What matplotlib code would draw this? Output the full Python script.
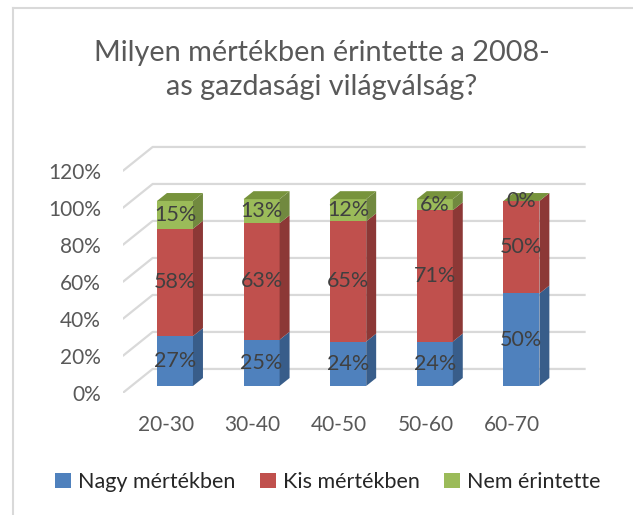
import matplotlib
matplotlib.use('Agg')
import matplotlib.pyplot as plt
from matplotlib.patches import Polygon, Patch
from matplotlib.lines import Line2D

plt.rcParams['font.family'] = ['Lato', 'DejaVu Sans']

categories = ['20-30', '30-40', '40-50', '50-60', '60-70']
series_names = ['Nagy mértékben', 'Kis mértékben', 'Nem érintette']
nagy = [27, 25, 24, 24, 50]
kis = [58, 63, 65, 71, 50]
nem = [15, 13, 12, 6, 0]
yticks = [0, 20, 40, 60, 80, 100, 120]

front = ['#4F81BD', '#C0504D', '#9BBB59']
side = ['#385D8A', '#8C3836', '#71893F']
top = ['#3F6A9E', '#A33F3C', '#77933C']

# fake 3d geometry (data units)
wall_dx, wall_dy = 0.346, 13.0   # back wall offset
bar_ox, bar_oy = 0.104, 3.8      # bar front face offset
bar_w = 0.416
dep_x, dep_y = 0.115, 4.3        # bar depth

fig = plt.figure(figsize=(6.33, 5.15), dpi=100)
ax = fig.add_axes([0.1938, 0.2369, 0.7388, 0.4885])
ax.set_xlim(-0.5, 4.9)
ax.set_ylim(0, 136)
for s in ax.spines.values():
    s.set_visible(False)

# gridlines: diagonal floor edge + back wall line
for t in yticks:
    ax.plot([-0.5, -0.5 + wall_dx, 4.5 + wall_dx], [t, t + wall_dy, t + wall_dy],
            color='#D9D9D9', lw=1.6, zorder=1, solid_capstyle='butt')

series = [nagy, kis, nem]
x = list(range(len(categories)))
bottoms = [0] * len(categories)
for k, vals in enumerate(series):
    xs = [i + bar_ox for i in x]
    bs = [b + bar_oy for b in bottoms]
    ax.bar(xs, vals, bottom=bs, width=bar_w, color=front[k], zorder=3)
    for i in x:
        x1 = xs[i] + bar_w / 2
        y0 = bs[i]
        y1 = bs[i] + vals[i]
        ax.add_patch(Polygon([(x1, y0), (x1 + dep_x, y0 + dep_y),
                              (x1 + dep_x, y1 + dep_y), (x1, y1)],
                             closed=True, color=side[k], lw=0, zorder=3))
        if k == len(series) - 1:
            xl = xs[i] - bar_w / 2
            ax.add_patch(Polygon([(xl, y1), (x1, y1), (x1 + dep_x, y1 + dep_y),
                                  (xl + dep_x, y1 + dep_y)],
                                 closed=True, color=top[k], lw=0, zorder=3))
        ax.text(xs[i], y0 + vals[i] / 2, f'{vals[i]}%', ha='center', va='center',
                fontsize=15.5, color='#404040', zorder=5)
    bottoms = [b + v for b, v in zip(bottoms, vals)]

ax.set_yticks(yticks)
ax.set_yticklabels([f'{t}%' for t in yticks])
ax.set_xticks(x)
ax.set_xticklabels(categories)
ax.tick_params(axis='y', length=0, pad=15.5, labelsize=15, labelcolor='#595959')
ax.tick_params(axis='x', length=0, pad=16, labelsize=15, labelcolor='#595959')

fig.text(0.508, 0.864, 'Milyen mértékben érintette a 2008-\nas gazdasági világválság?',
         ha='center', va='center', fontsize=20.8, color='#595959', linespacing=1.38)

handles = [Patch(facecolor=c, edgecolor='none') for c in front]
fig.legend(handles, series_names, loc='center', bbox_to_anchor=(0.518, 1 - 482 / 515),
           ncol=3, frameon=False, fontsize=15.5, handlelength=0.75, handleheight=0.75,
           handletextpad=0.35, columnspacing=1.1, labelcolor='#262626')

# chart border (left/top visible)
fig.add_artist(Line2D([13 / 633, 13 / 633], [0, 1 - 8 / 515], transform=fig.transFigure,
                      color='#D9D9D9', lw=1.5))
fig.add_artist(Line2D([13 / 633, 1], [1 - 8 / 515, 1 - 8 / 515], transform=fig.transFigure,
                      color='#D9D9D9', lw=1.5))

fig.savefig('out.png', dpi=100)
